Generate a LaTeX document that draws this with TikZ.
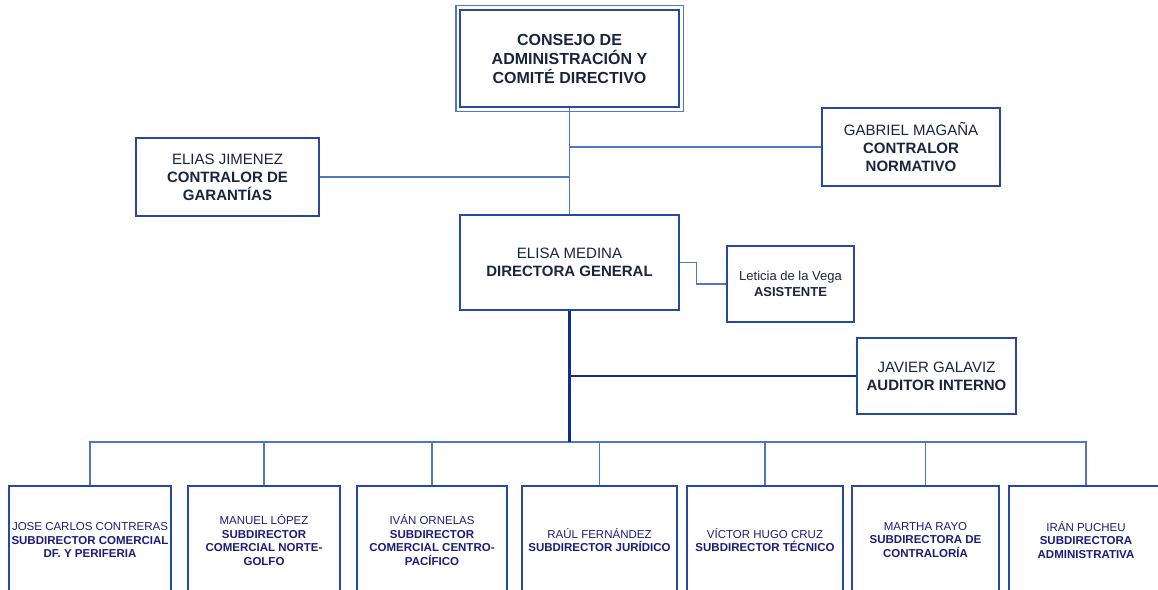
\documentclass[tikz,border=0pt]{standalone}
\usepackage{fontspec}
\setmainfont{Liberation Sans}
\usetikzlibrary{positioning,calc}
\definecolor{borde}{RGB}{40,72,165}
\definecolor{linea}{RGB}{79,120,190}
\definecolor{tronco}{RGB}{15,45,150}
\definecolor{texto}{RGB}{25,36,64}
\definecolor{textoaz}{RGB}{28,28,125}

\begin{document}
\begin{tikzpicture}[x=1pt,y=-1pt,
  caja/.style={draw=borde,line width=1.4pt,fill=white,inner sep=0pt,
               align=center,text=texto,font=\fontsize{15}{18}\selectfont},
  subd/.style={caja,text=textoaz,minimum height=108pt,
               font=\fontsize{11.5}{13.5}\selectfont},
  con/.style={draw=linea,line width=1.4pt},
  trn/.style={draw=tronco,line width=2.6pt}
]
\clip (0,0) rectangle (1158,589);

% consejo y direccion
\node[caja,minimum width=219pt,minimum height=97pt,
      font=\fontsize{16}{19}\bfseries\selectfont] (consejo) at (569.5,58.5)
  {CONSEJO DE\\ADMINISTRACIÓN Y\\COMITÉ DIRECTIVO};
\draw[draw=linea,line width=1.4pt]
  ($(consejo.north west)+(-3.5,-4)$) rectangle ($(consejo.south east)+(3.5,4)$);
\node[caja,minimum width=219pt,minimum height=95pt] (direc) at (569.5,262.5)
  {ELISA MEDINA\\\textbf{DIRECTORA GENERAL}};

% organos de control
\node[caja,minimum width=183pt,minimum height=78pt] (garant) at (227.5,177)
  {ELIAS JIMENEZ\\\textbf{CONTRALOR DE}\\\textbf{GARANTÍAS}};
\node[caja,minimum width=178pt,minimum height=78pt] (normat) at (911,147)
  {GABRIEL MAGAÑA\\\textbf{CONTRALOR}\\\textbf{NORMATIVO}};
\node[caja,minimum width=127pt,minimum height=76pt,
      font=\fontsize{13}{15.5}\selectfont] (asist) at (790.5,284)
  {Leticia de la Vega\\\textbf{ASISTENTE}};
\node[caja,minimum width=159pt,minimum height=76pt] (audit) at (936.5,376)
  {JAVIER GALAVIZ\\\textbf{AUDITOR INTERNO}};

% subdirecciones
\coordinate (bus) at (569.5,442);
\node[subd,minimum width=162pt] (s1) at (90,540)
  {JOSE CARLOS CONTRERAS\\\textbf{SUBDIRECTOR COMERCIAL}\\\textbf{DF. Y PERIFERIA}};
\node[subd,minimum width=152pt] (s2) at (264,540)
  {MANUEL LÓPEZ\\\textbf{SUBDIRECTOR}\\\textbf{COMERCIAL NORTE-}\\\textbf{GOLFO}};
\node[subd,minimum width=150pt] (s3) at (432,540)
  {IVÁN ORNELAS\\\textbf{SUBDIRECTOR}\\\textbf{COMERCIAL CENTRO-}\\\textbf{PACÍFICO}};
\node[subd,minimum width=155pt] (s4) at (599.5,540)
  {RAÚL FERNÁNDEZ\\\textbf{SUBDIRECTOR JURÍDICO}};
\node[subd,minimum width=156pt] (s5) at (765,540)
  {VÍCTOR HUGO CRUZ\\\textbf{SUBDIRECTOR TÉCNICO}};
\node[subd,minimum width=147pt] (s6) at (925.5,540)
  {MARTHA RAYO\\\textbf{SUBDIRECTORA DE}\\\textbf{CONTRALORÍA}};
\node[subd,minimum width=154pt] (s7) at (1086,540)
  {IRÁN PUCHEU\\\textbf{SUBDIRECTORA}\\\textbf{ADMINISTRATIVA}};

% conectores
\draw[con] (consejo.south) -- (direc.north);
\draw[con] (garant.east) -- (garant.east -| direc.north);
\draw[con] (normat.west) -- (normat.west -| direc.north);
\draw[con] (direc.east) -- ++(17,0) |- (asist.west);
\draw[con] (s1.north) |- (bus);
\draw[con] (s2.north) |- (bus);
\draw[con] (s3.north) |- (bus);
\draw[con] (s4.north) |- (bus);
\draw[con] (s5.north) |- (bus);
\draw[con] (s6.north) |- (bus);
\draw[con] (s7.north) |- (bus);
\draw[con,draw=tronco] (direc.south |- audit.west) -- (audit.west);
\draw[trn] (direc.south) -- (bus);
\end{tikzpicture}
\end{document}
